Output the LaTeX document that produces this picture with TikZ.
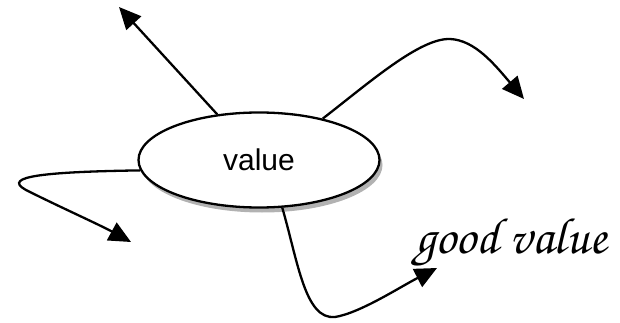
\documentclass[tikz,border=0pt]{standalone}
\usepackage{fontspec}
\setmainfont{Liberation Sans}
\newfontfamily\chorus{TeX Gyre Chorus}
\usetikzlibrary{arrows.meta,shadows,shapes.geometric}
\tikzset{
  conn/.style={line width=2.3pt,-{Triangle[length=22pt,width=20pt]}},
  blob/.style={ellipse,draw,line width=2.3pt,fill=white,minimum width=241pt,minimum height=95pt,inner sep=0pt,
    drop shadow={shadow xshift=3pt,shadow yshift=-5pt,fill=black,opacity=0.3}},
}
\begin{document}
\begin{tikzpicture}[x=1pt,y=-1pt]
\useasboundingbox (0,0) rectangle (620,323);
\node[blob] (v) at (259,160) {\fontsize{30}{30}\selectfont value};
\coordinate (t1) at (119,7);
\coordinate (t2) at (524,99);
\coordinate (t3) at (131,242);
\coordinate (t4) at (437,268);
\node[anchor=base,inner sep=0pt] (gv) at (511,253)
  {\chorus\fontsize{51}{51}\selectfont good value};
\draw[conn] (v) -- (t1);
\draw[conn] (v.33) .. controls (370,82) and (420,38) .. (450,39) .. controls (475,40) and (495,65) .. (t2);
\draw[conn] (v.185) .. controls (30,172) and (0,178) .. (30,192) .. controls (60,207) and (100,225) .. (t3);
\draw[conn] (v.296) .. controls (298,262) and (305,320) .. (335,317) .. controls (360,313) and (400,287) .. (t4);
\end{tikzpicture}
\end{document}
